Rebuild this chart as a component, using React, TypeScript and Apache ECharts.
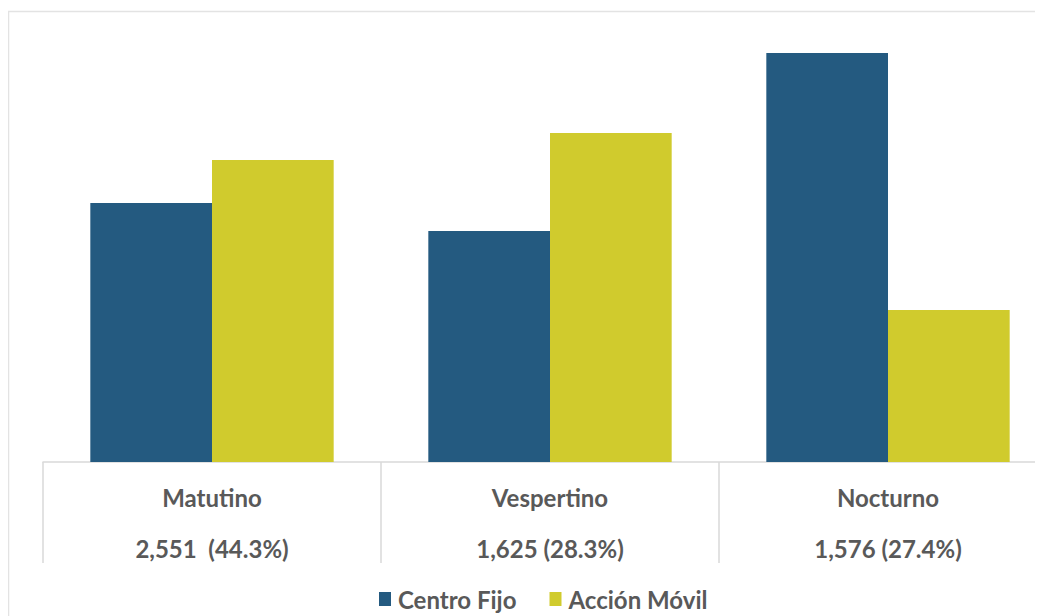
import React, { useEffect, useRef } from "react";
import * as echarts from "echarts";

const categories = ["Matutino", "Vespertino", "Nocturno"];
const totals = ["2,551  (44.3%)", "1,625 (28.3%)", "1,576 (27.4%)"];
const centroFijo = [25.9, 23.1, 40.9];
const accionMovil = [30.2, 32.9, 15.2];
const seriesNames = ["Centro Fijo", "Acción Móvil"];

const BLUE = "#245A80";
const YELLOW = "#D0CB2D";
const TEXT = "#595959";
const FONT = "Lato, 'Open Sans', sans-serif";

export default function App() {
  const ref = useRef<HTMLDivElement>(null);
  useEffect(() => {
    if (!ref.current) return;
    const chart = echarts.init(ref.current, undefined, { renderer: "svg" });
    chart.setOption({
      animation: false,
      graphic: [
        {
          type: "rect",
          shape: { x: 0.5, y: 3.5, width: 1200, height: 800 },
          style: { fill: "none", stroke: "#e3e3e3", lineWidth: 1.5 },
          silent: true,
        },
      ],
      legend: {
        left: 371,
        top: 579,
        padding: 0,
        icon: "rect",
        itemWidth: 12,
        itemHeight: 14,
        itemGap: 33,
        textStyle: { color: TEXT, fontFamily: FONT, fontWeight: "bold", fontSize: 24, padding: [0, 0, 0, 2] },
        data: seriesNames,
      },
      grid: { left: 35, top: 4, width: 1014, height: 450 },
      xAxis: {
        type: "category",
        data: categories,
        axisLine: { show: true, lineStyle: { color: "#d9d9d9", width: 1.5 } },
        axisTick: { show: true, length: 101, lineStyle: { color: "#d9d9d9", width: 1.5 } },
        axisLabel: {
          margin: 10,
          formatter: (v: string, i: number) => `{a|${v}}\n{b|${totals[i]}}`,
          rich: {
            a: { fontFamily: FONT, fontWeight: "bold", fontSize: 24, color: TEXT, lineHeight: 51 },
            b: { fontFamily: FONT, fontWeight: "bold", fontSize: 24, color: TEXT, lineHeight: 51 },
          },
        },
      },
      yAxis: { type: "value", min: 0, max: 45, show: false, splitLine: { show: false } },
      series: [
        {
          name: seriesNames[0],
          type: "bar",
          data: centroFijo,
          barWidth: "36%",
          barGap: "0%",
          itemStyle: { color: BLUE },
        },
        {
          name: seriesNames[1],
          type: "bar",
          data: accionMovil,
          barWidth: "36%",
          barGap: "0%",
          itemStyle: { color: YELLOW },
        },
      ],
    });
    return () => chart.dispose();
  }, []);
  return (
    <div style={{ width: 1035, height: 608, overflow: "hidden" }}>
      <div ref={ref} style={{ width: 1100, height: 620 }} />
    </div>
  );
}
